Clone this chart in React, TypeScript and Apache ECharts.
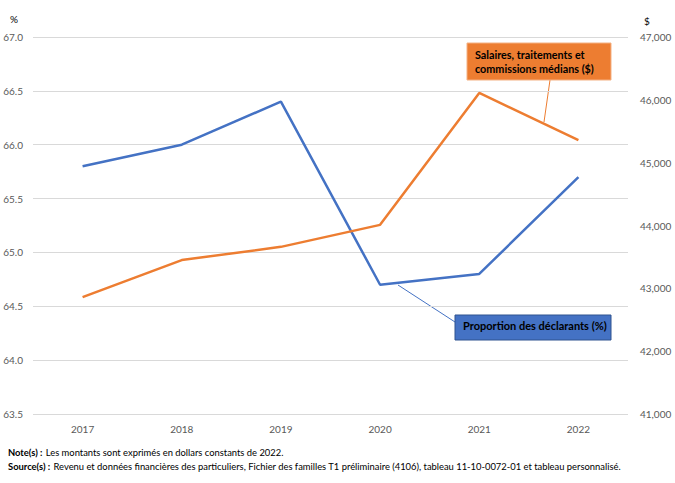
import React, { useEffect, useRef } from "react";
import * as echarts from "echarts";

const years = ["2017", "2018", "2019", "2020", "2021", "2022"];
const proportionDeclarants = [65.8, 66.0, 66.4, 64.7, 64.8, 65.7];
const salairesMedians = [42860, 43450, 43660, 44010, 46110, 45360];

const FONT = "Lato, 'Open Sans', sans-serif";
const BLUE = "#4472C4";
const ORANGE = "#ED7D31";

export default function App() {
  const ref = useRef<HTMLDivElement>(null);
  useEffect(() => {
    if (!ref.current) return;
    const chart = echarts.init(ref.current, null, { renderer: "svg" });
    chart.setOption({
      animation: false,
      backgroundColor: "#ffffff",
      textStyle: { fontFamily: FONT },
      grid: { left: 33, right: 47, top: 37, bottom: 69 },
      xAxis: {
        type: "category",
        data: years,
        boundaryGap: true,
        axisLine: { show: false },
        axisTick: { show: false },
        axisLabel: { color: "#595959", fontSize: 10, margin: 10, fontFamily: FONT },
      },
      yAxis: [
        {
          type: "value",
          min: 63.5,
          max: 67,
          interval: 0.5,
          axisLine: { show: false },
          axisTick: { show: false },
          axisLabel: {
            color: "#595959",
            fontSize: 10,
            margin: 10,
            fontFamily: FONT,
            formatter: (v: number) => v.toFixed(1),
          },
          splitLine: { lineStyle: { color: "#d9d9d9", width: 1 } },
        },
        {
          type: "value",
          min: 41000,
          max: 47000,
          interval: 1000,
          axisLine: { show: false },
          axisTick: { show: false },
          axisLabel: {
            color: "#595959",
            fontSize: 10,
            margin: 12,
            fontFamily: FONT,
            formatter: (v: number) => v.toLocaleString("en-US"),
          },
          splitLine: { show: false },
        },
      ],
      series: [
        {
          name: "Proportion des déclarants (%)",
          type: "line",
          yAxisIndex: 0,
          data: proportionDeclarants,
          symbol: "none",
          lineStyle: { color: BLUE, width: 2.5 },
          itemStyle: { color: BLUE },
        },
        {
          name: "Salaires, traitements et commissions médians ($)",
          type: "line",
          yAxisIndex: 1,
          data: salairesMedians,
          symbol: "none",
          lineStyle: { color: ORANGE, width: 2.5 },
          itemStyle: { color: ORANGE },
        },
      ],
      graphic: [
        { type: "text", left: 10, top: 14, style: { text: "%", fontSize: 10, fill: "#000", fontFamily: FONT } },
        { type: "text", left: 644, top: 16, style: { text: "$", fontSize: 10, fill: "#000", fontFamily: FONT } },
        // orange annotation
        { type: "line", shape: { x1: 550, y1: 80, x2: 544, y2: 122 }, style: { stroke: ORANGE, lineWidth: 1 } },
        { type: "rect", shape: { x: 467, y: 43, width: 144, height: 37 }, style: { fill: ORANGE, stroke: "#f4b183", lineWidth: 1 } },
        {
          type: "text",
          x: 475,
          y: 47,
          style: {
            text: "Salaires, traitements et\ncommissions médians ($)",
            fontSize: 10.8,
            fontWeight: "bold",
            lineHeight: 14,
            fill: "#000",
            fontFamily: FONT,
          },
        },
        // blue annotation
        { type: "line", shape: { x1: 398, y1: 285, x2: 455, y2: 322 }, style: { stroke: BLUE, lineWidth: 1 } },
        { type: "rect", shape: { x: 455, y: 315, width: 156, height: 25 }, style: { fill: BLUE, stroke: "#2f528f", lineWidth: 1 } },
        {
          type: "text",
          x: 463,
          y: 320,
          style: {
            text: "Proportion des déclarants (%)",
            fontSize: 11,
            fontWeight: "bold",
            fill: "#000",
            fontFamily: FONT,
          },
        },
        // footnotes
        {
          type: "text",
          left: 8,
          top: 446,
          style: {
            rich: {
              b: { fontWeight: "bold", fontSize: 9.4, fill: "#000", fontFamily: FONT },
              n: { fontSize: 9.4, fill: "#000", fontFamily: FONT },
            },
            text: "{b|Note(s) :} {n|Les montants sont exprimés en dollars constants de 2022.}",
          },
        },
        {
          type: "text",
          left: 8,
          top: 460,
          style: {
            rich: {
              b: { fontWeight: "bold", fontSize: 9.4, fill: "#000", fontFamily: FONT },
              n: { fontSize: 9.4, fill: "#000", fontFamily: FONT },
            },
            text:
              "{b|Source(s) :} {n|Revenu et données financières des particuliers, Fichier des familles T1 préliminaire (4106), tableau 11-10-0072-01 et tableau personnalisé.}",
          },
        },
      ],
    });
    return () => chart.dispose();
  }, []);
  return (
    <div
      ref={ref}
      style={{ position: "fixed", left: 0, top: 0, width: 675, height: 483, background: "#fff" }}
    />
  );
}
